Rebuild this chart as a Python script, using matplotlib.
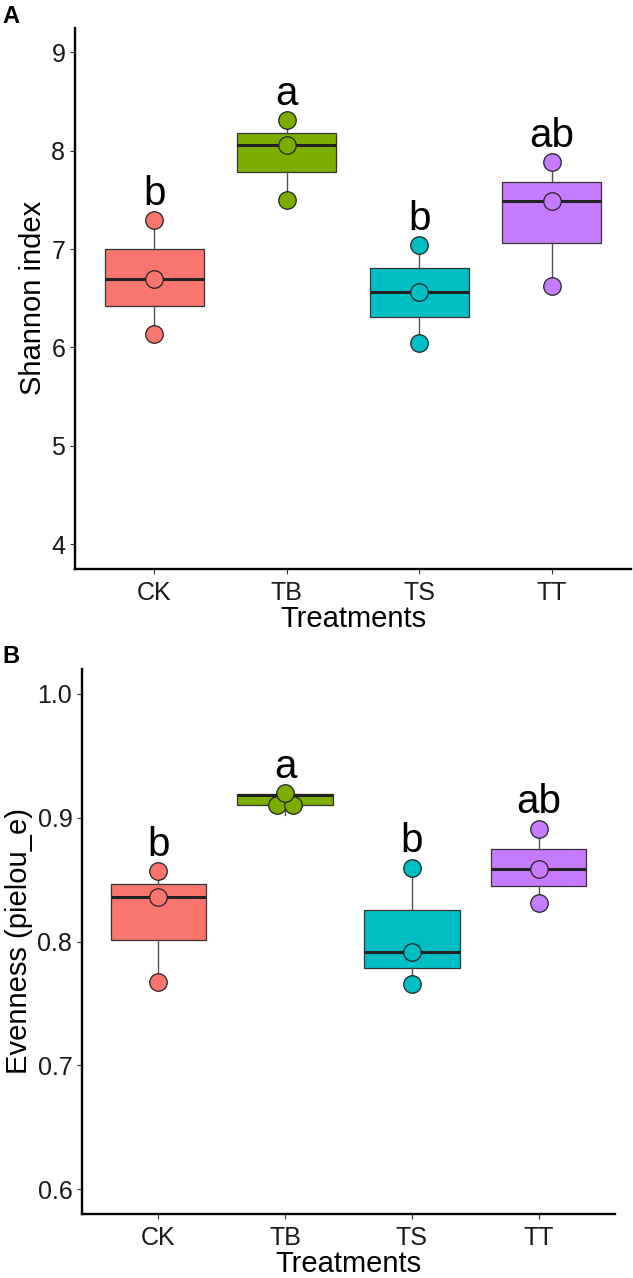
import numpy as np
import matplotlib
matplotlib.use('Agg')
import matplotlib.pyplot as plt

plt.rcParams['font.family'] = ['Liberation Sans', 'DejaVu Sans']

treatments = ['CK', 'TB', 'TS', 'TT']
colors = ['#F8766D', '#7CAE00', '#00BFC4', '#C77CFF']

# three replicates per treatment
shannon = {
    'CK': [6.14, 6.70, 7.295],
    'TB': [7.50, 8.055, 8.306],
    'TS': [6.05, 6.568, 7.04],
    'TT': [6.625, 7.488, 7.88],
}
evenness = {
    'CK': [0.7672, 0.8357, 0.8566],
    'TB': [0.902, 0.918, 0.920],
    'TS': [0.766, 0.7916, 0.8597],
    'TT': [0.8311, 0.8585, 0.8911],
}
letters = ['b', 'a', 'b', 'ab']

shannon_ticks = [4, 5, 6, 7, 8, 9]
evenness_ticks = [0.6, 0.7, 0.8, 0.9, 1.0]
evenness_ticklabels = ['0.6', '0.7', '0.8', '0.9', '1.0']

W, H = 633, 1278
DOT_PX = 17.5
STACK_PX = 16


def dot_bins(vals, binwidth):
    # dotdensity-like binning: close values share one stack
    vals = sorted(vals)
    bins = []
    cur = [vals[0]]
    for v in vals[1:]:
        if v - cur[0] < binwidth:
            cur.append(v)
        else:
            bins.append(cur)
            cur = [v]
    bins.append(cur)
    return [((min(b) + max(b)) / 2, len(b)) for b in bins]


def panel(ax, data, ylim, ticks, ticklabels, ylabel, binwidth, ax_w_px):
    pos = np.arange(1, len(treatments) + 1)
    vals = [data[t] for t in treatments]
    bp = ax.boxplot(vals, positions=pos, widths=0.75, whis=(0, 100),
                    showfliers=False, showcaps=False, patch_artist=True,
                    medianprops=dict(color='#222222', linewidth=2.2),
                    whiskerprops=dict(color='#505050', linewidth=1.0),
                    boxprops=dict(edgecolor='#333333', linewidth=0.9))
    for patch, c in zip(bp['boxes'], colors):
        patch.set_facecolor(c)

    px_per_unit = ax_w_px / 4.2
    dx = STACK_PX / px_per_unit
    for i, t in enumerate(treatments):
        for yc, n in dot_bins(data[t], binwidth):
            xs = pos[i] + (np.arange(n) - (n - 1) / 2) * dx
            ax.scatter(xs, [yc] * n, s=(DOT_PX * 0.72) ** 2, color=colors[i],
                       edgecolor='#222222', linewidth=0.9, zorder=5)
        ax.annotate(letters[i], (pos[i], max(data[t])), xytext=(0, 11),
                    textcoords='offset points', ha='center', va='baseline',
                    fontsize=29)

    ax.set_xlim(0.4, 4.6)
    ax.set_ylim(*ylim)
    ax.set_yticks(ticks)
    ax.set_yticklabels(ticklabels)
    ax.set_xticks(pos)
    ax.set_xticklabels(treatments)
    ax.spines['top'].set_visible(False)
    ax.spines['right'].set_visible(False)
    ax.spines['left'].set_linewidth(1.7)
    ax.spines['bottom'].set_linewidth(1.7)
    ax.tick_params(axis='both', length=3.5, width=0.8, color='#333333',
                   labelsize=18, labelcolor='#1a1a1a', pad=3.5)
    ax.tick_params(axis='x', pad=5)
    ax.set_xlabel('Treatments', fontsize=21, labelpad=0)
    ax.set_ylabel(ylabel, fontsize=21, labelpad=3)


fig = plt.figure(figsize=(W / 100, H / 100), dpi=100)

axA = fig.add_axes([75 / W, 1 - 569 / H, (631 - 75) / W, (569 - 27.5) / H])
panel(axA, shannon, (3.75, 9.25), shannon_ticks, [str(t) for t in shannon_ticks],
      'Shannon index', 0.2, 631 - 75)

axB = fig.add_axes([82 / W, 1 - 1214 / H, (615 - 82) / W, (1214 - 669) / H])
panel(axB, evenness, (0.58, 1.02), evenness_ticks, evenness_ticklabels,
      'Evenness (pielou_e)', 0.017, 615 - 82)

fig.text(2 / W, 1 - 23 / H, 'A', fontsize=17, fontweight='bold', va='baseline')
fig.text(2 / W, 1 - 663 / H, 'B', fontsize=17, fontweight='bold', va='baseline')

fig.savefig('out.png', dpi=100)
